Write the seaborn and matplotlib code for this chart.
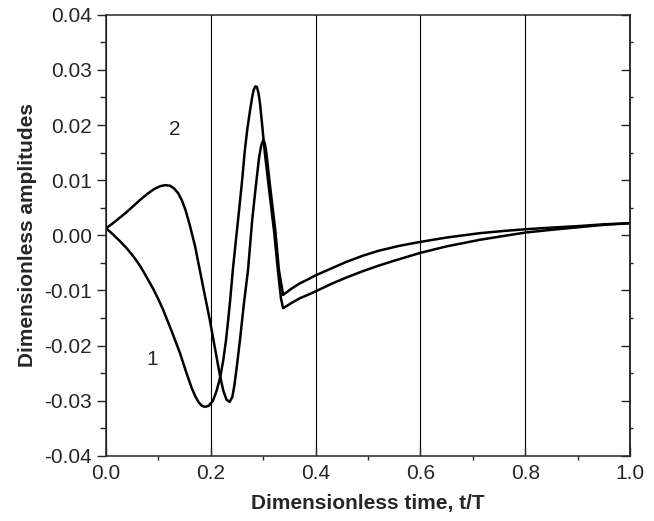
import pandas as pd
import matplotlib
matplotlib.use("Agg")
import matplotlib.pyplot as plt
from matplotlib.ticker import MultipleLocator, FormatStrFormatter
import seaborn as sns

# --- data ---
t1 = [0.0, 0.013, 0.027, 0.040, 0.052, 0.062, 0.071, 0.080, 0.090, 0.100, 0.109,
      0.125, 0.141, 0.153, 0.164, 0.171, 0.177, 0.183, 0.189, 0.196, 0.204, 0.211,
      0.218, 0.224, 0.229, 0.233, 0.237, 0.242, 0.248, 0.254, 0.260, 0.265, 0.270,
      0.275, 0.279, 0.282, 0.285, 0.288, 0.291, 0.294, 0.298, 0.303, 0.311, 0.321,
      0.328, 0.334, 0.338, 0.345, 0.355, 0.370, 0.385, 0.399, 0.430, 0.460, 0.490,
      0.520, 0.550, 0.599, 0.650, 0.714, 0.760, 0.800, 0.850, 0.905, 0.950, 1.0]
a1 = [0.0013, 0.0002, -0.0011, -0.0024, -0.0038, -0.0051, -0.0065, -0.0080, -0.0097,
      -0.0116, -0.0135, -0.0173, -0.0213, -0.0248, -0.0278, -0.0293, -0.0303, -0.0309,
      -0.0311, -0.0309, -0.0300, -0.0282, -0.0257, -0.0225, -0.0190, -0.0155, -0.0117,
      -0.0063, -0.0008, 0.0046, 0.0102, 0.0155, 0.0195, 0.0227, 0.0251, 0.0264, 0.0270,
      0.0269, 0.0258, 0.0238, 0.0200, 0.0150, 0.0085, 0.0005, -0.0063, -0.0115, -0.0132,
      -0.0128, -0.0122, -0.0114, -0.0108, -0.0102, -0.0088, -0.0076, -0.0065, -0.0055,
      -0.0046, -0.0032, -0.0020, -0.0008, -0.0001, 0.0005, 0.0010, 0.0015, 0.0019, 0.0022]

t2 = [0.0, 0.012, 0.025, 0.038, 0.052, 0.066, 0.080, 0.092, 0.103, 0.113, 0.122,
      0.130, 0.138, 0.145, 0.152, 0.160, 0.170, 0.179, 0.188, 0.198, 0.208, 0.218,
      0.224, 0.230, 0.236, 0.241, 0.245, 0.250, 0.256, 0.263, 0.271, 0.279, 0.286,
      0.292, 0.296, 0.300, 0.303, 0.306, 0.313, 0.323, 0.330, 0.338, 0.345, 0.355,
      0.370, 0.385, 0.399, 0.430, 0.459, 0.490, 0.520, 0.560, 0.599, 0.650, 0.714,
      0.760, 0.800, 0.850, 0.905, 0.950, 1.0]
a2 = [0.0013, 0.0021, 0.0031, 0.0041, 0.0053, 0.0065, 0.0076, 0.0084, 0.0089, 0.0091,
      0.0090, 0.0085, 0.0076, 0.0063, 0.0045, 0.0018, -0.0020, -0.0063, -0.0106, -0.0153,
      -0.0205, -0.0257, -0.0282, -0.0298, -0.0302, -0.0293, -0.0272, -0.0235, -0.0187,
      -0.0125, -0.0063, 0.0028, 0.0090, 0.0140, 0.0162, 0.0173, 0.0167, 0.0150, 0.0090,
      0.0010, -0.0063, -0.0108, -0.0103, -0.0096, -0.0087, -0.0080, -0.0073, -0.0060,
      -0.0048, -0.0037, -0.0028, -0.0019, -0.0012, -0.0004, 0.0004, 0.0008, 0.0011,
      0.0014, 0.0017, 0.0020, 0.0022]

curve_labels = ["1", "2"]
label_pos = [(0.088, -0.0226), (0.132, 0.0192)]

df = pd.concat([
    pd.DataFrame({"t": t1, "amp": a1, "curve": "1"}),
    pd.DataFrame({"t": t2, "amp": a2, "curve": "2"}),
])

sns.set_style("ticks")
plt.rcParams['font.family'] = ['Liberation Sans', 'DejaVu Sans']
plt.rcParams['font.size'] = 15

fig = plt.figure(figsize=(6.54, 5.21), dpi=100)
ax = fig.add_axes([0.1621, 0.1248, 0.8012, 0.847])

sns.lineplot(data=df, x="t", y="amp", units="curve", estimator=None,
             color="black", lw=1.8, sort=False, ax=ax)

for lab, (x, y) in zip(curve_labels, label_pos):
    ax.text(x, y, lab, fontsize=15, ha="center", va="center")

ax.set_xlim(0, 1.0)
ax.set_ylim(-0.04, 0.04)
ax.xaxis.set_major_locator(MultipleLocator(0.2))
ax.xaxis.set_minor_locator(MultipleLocator(0.1))
ax.yaxis.set_major_locator(MultipleLocator(0.01))
ax.yaxis.set_minor_locator(MultipleLocator(0.005))
ax.xaxis.set_major_formatter(FormatStrFormatter('%.1f'))
ax.yaxis.set_major_formatter(FormatStrFormatter('%.2f'))

ax.grid(axis='x', which='major', color='black', lw=0.8)

for s in ax.spines.values():
    s.set_visible(True)
    s.set_linewidth(1.1)

ax.tick_params(axis='y', which='major', direction='out', length=6.5, width=1.0, labelsize=15)
ax.tick_params(axis='y', which='minor', direction='out', length=4.3, width=1.0)
ax.tick_params(axis='x', which='major', direction='in', length=6.5, width=1.0, labelsize=15, pad=6)
ax.tick_params(axis='x', which='minor', direction='out', length=3, width=1.0)

# right-hand ticks
ax2 = ax.secondary_yaxis('right')
ax2.yaxis.set_major_locator(MultipleLocator(0.01))
ax2.yaxis.set_minor_locator(MultipleLocator(0.005))
ax2.tick_params(axis='y', which='major', direction='in', length=6.5, width=1.0, labelright=False)
ax2.tick_params(axis='y', which='minor', direction='out', length=2, width=1.0)
ax2.spines['right'].set_linewidth(1.1)

ax.set_xlabel("Dimensionless time, t/T", fontsize=15, fontweight='bold', labelpad=8)
ax.set_ylabel("Dimensionless amplitudes", fontsize=15, fontweight='bold', labelpad=5)

fig.savefig("out.png", dpi=100)
